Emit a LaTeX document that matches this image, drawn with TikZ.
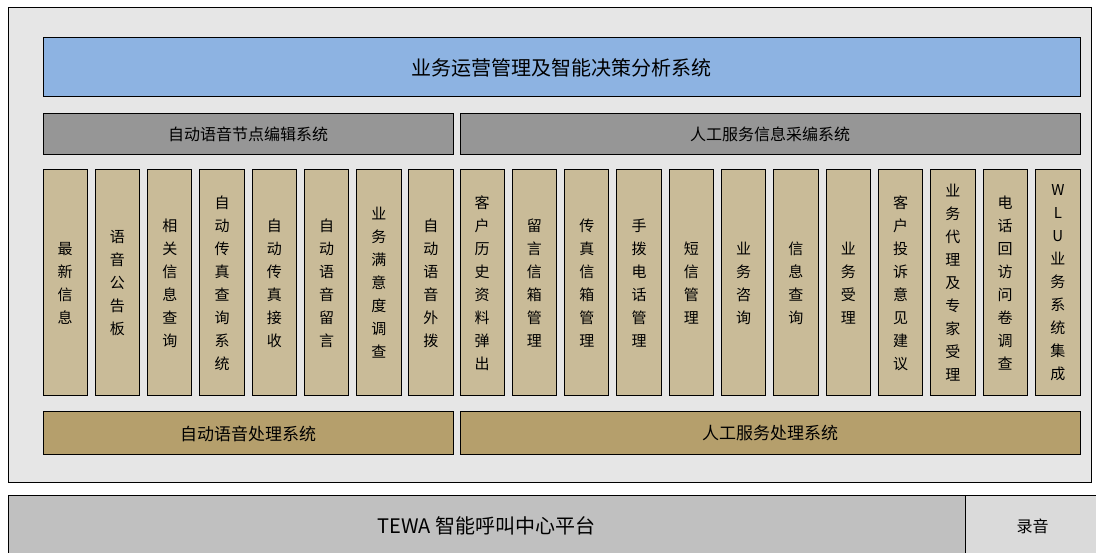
\documentclass[tikz,border=0pt]{standalone}
\usepackage{fontspec}
\newfontfamily\cjk{Noto Sans CJK SC}
\definecolor{bgc}{HTML}{E6E6E6}
\definecolor{bluec}{HTML}{8DB3E2}
\definecolor{headc}{HTML}{969696}
\definecolor{colc}{HTML}{C9BB98}
\definecolor{basec}{HTML}{B59F6C}
\definecolor{platc}{HTML}{C0C0C0}
\definecolor{recc}{HTML}{DADADA}
\tikzset{
  box/.style={draw=black, line width=1pt, inner sep=0pt, outer sep=0pt, anchor=north west, font=\cjk},
  colbox/.style={box, fill=colc, minimum width=44.3pt, minimum height=226pt, align=center, font=\cjk\fontsize{15}{23}\selectfont},
  headbox/.style={box, fill=headc, minimum height=41pt, font=\cjk\fontsize{16}{18}\selectfont},
  basebox/.style={box, fill=basec, minimum height=43pt, font=\cjk\fontsize{17}{19}\selectfont},
}
\begin{document}
\begin{tikzpicture}[x=1pt,y=-1pt]
\useasboundingbox (0,0) rectangle (1096,553);
\node[box, fill=bgc, minimum width=1083pt, minimum height=474pt] (outer) at (8,8) {};
\node[box, fill=bluec, minimum width=1037pt, minimum height=59pt, font=\cjk\fontsize{20}{22}\selectfont] (top) at (43,38) {业务运营管理及智能决策分析系统};
\node[headbox, minimum width=410pt] (hl) at (43,114) {自动语音节点编辑系统};
\node[headbox, minimum width=620pt] (hr) at (460,114) {人工服务信息采编系统};
% left columns
\node[colbox] (l1) at (43,170) {最\\新\\信\\息};
\node[colbox] (l2) at (95.3,170) {语\\音\\公\\告\\板};
\node[colbox] (l3) at (147.6,170) {相\\关\\信\\息\\查\\询};
\node[colbox] (l4) at (199.9,170) {自\\动\\传\\真\\查\\询\\系\\统};
\node[colbox] (l5) at (252.2,170) {自\\动\\传\\真\\接\\收};
\node[colbox] (l6) at (304.5,170) {自\\动\\语\\音\\留\\言};
\node[colbox] (l7) at (356.8,170) {业\\务\\满\\意\\度\\调\\查};
\node[colbox] (l8) at (408.7,170) {自\\动\\语\\音\\外\\拨};
% right columns
\node[colbox] (r1) at (460,170) {客\\户\\历\\史\\资\\料\\弹\\出};
\node[colbox] (r2) at (512.3,170) {留\\言\\信\\箱\\管\\理};
\node[colbox] (r3) at (564.6,170) {传\\真\\信\\箱\\管\\理};
\node[colbox] (r4) at (616.9,170) {手\\拨\\电\\话\\管\\理};
\node[colbox] (r5) at (669.2,170) {短\\信\\管\\理};
\node[colbox] (r6) at (721.5,170) {业\\务\\咨\\询};
\node[colbox] (r7) at (773.8,170) {信\\息\\查\\询};
\node[colbox] (r8) at (826.1,170) {业\\务\\受\\理};
\node[colbox] (r9) at (878.4,170) {客\\户\\投\\诉\\意\\见\\建\\议};
\node[colbox] (r10) at (930.7,170) {业\\务\\代\\理\\及\\专\\家\\受\\理};
\node[colbox] (r11) at (983,170) {电\\话\\回\\访\\问\\卷\\调\\查};
\node[colbox] (r12) at (1035.7,170) {W\\L\\U\\业\\务\\系\\统\\集\\成};
% base boxes
\node[basebox, minimum width=410pt] (bl) at (43,412) {自动语音处理系统};
\node[basebox, minimum width=620pt] (br) at (460,412) {人工服务处理系统};
% platform
\node[box, fill=platc, minimum width=957pt, minimum height=62pt, font=\cjk\fontsize{20}{22}\selectfont] (plat) at (8,495) {TEWA 智能呼叫中心平台};
\node[box, fill=recc, minimum width=135pt, minimum height=62pt, font=\cjk\fontsize{16}{18}\selectfont] (rec) at (965,495) {录音};
\end{tikzpicture}
\end{document}
